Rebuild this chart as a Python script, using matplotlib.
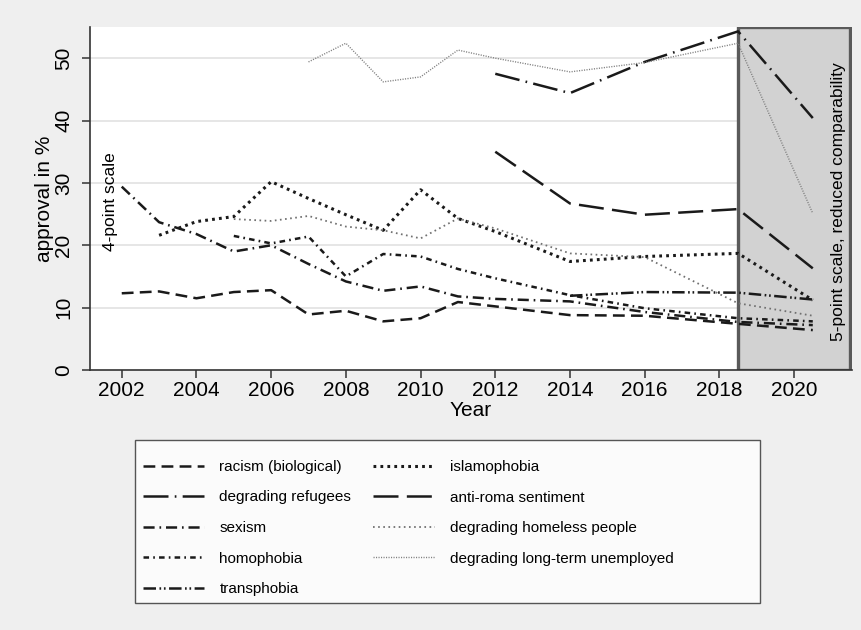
import matplotlib
matplotlib.use('Agg')
import matplotlib.pyplot as plt
import matplotlib.patches as patches
import numpy as np

plt.rcParams['font.family'] = ['Liberation Sans', 'DejaVu Sans']
plt.rcParams['lines.scale_dashes'] = False

nan = np.nan

# survey waves (2018/19 and 2020/21 sit between the even years)
years = [2002, 2003, 2004, 2005, 2006, 2007, 2008, 2009, 2010, 2011, 2012,
         2014, 2016, 2018.5, 2020.5]

racism = [12.3, 12.6, 11.5, 12.5, 12.8, 8.9, 9.5, 7.8, 8.3, 10.9, 10.2,
          8.8, 8.7, 7.4, 6.4]
refugees = [nan, nan, nan, nan, nan, nan, nan, nan, nan, nan, 47.5,
            44.4, 49.4, 54.3, 40.4]
sexism = [29.4, 23.7, 21.8, 19.0, 20.0, 17.0, 14.2, 12.7, 13.4, 11.8, 11.4,
          11.0, 9.3, 7.7, 7.2]
homophobia = [nan, nan, nan, 21.5, 20.3, 21.4, 15.0, 18.6, 18.2, 16.2, 14.7,
              12.0, 9.9, 8.3, 7.8]
transphobia = [nan, nan, nan, nan, nan, nan, nan, nan, nan, nan, nan,
               11.9, 12.5, 12.4, 11.3]
islamophobia = [nan, 21.6, 23.8, 24.6, 30.2, 27.5, 24.9, 22.4, 28.9, 24.3, 22.2,
                17.4, 18.2, 18.7, 11.2]
antiroma = [nan, nan, nan, nan, nan, nan, nan, nan, nan, nan, 35.0,
            26.7, 24.9, 25.8, 16.3]
homeless = [nan, nan, nan, 24.2, 23.9, 24.7, 23.0, 22.4, 21.1, 24.3, 22.7,
            18.7, 18.1, 10.7, 8.7]
unemployed = [nan, nan, nan, nan, nan, 49.4, 52.4, 46.2, 47.0, 51.3, 50.0,
              47.8, 49.3, 52.4, 25.1]

labels = ['racism (biological)', 'degrading refugees', 'sexism', 'homophobia',
          'transphobia', 'islamophobia', 'anti-roma sentiment',
          'degrading homeless people', 'degrading long-term unemployed']
series = [racism, refugees, sexism, homophobia, transphobia, islamophobia,
          antiroma, homeless, unemployed]
# (dash pattern, linewidth, color)
styles = [
    ((0, (8.5, 4.5)), 1.8, '#1a1a1a'),
    ((0, (18, 4.5, 1.2, 4.5)), 1.8, '#1a1a1a'),
    ((0, (8, 3.5, 1.2, 3.5)), 1.8, '#1a1a1a'),
    ((0, (4, 3, 1.2, 3)), 1.8, '#1a1a1a'),
    ((0, (9, 2.5, 1.2, 2, 1.2, 2.5)), 1.8, '#1a1a1a'),
    ((0, (2, 3)), 2.2, '#1a1a1a'),
    ((0, (18, 6)), 1.8, '#1a1a1a'),
    ((0, (1.2, 2.5)), 1.3, '#707070'),
    ((0, (0.8, 1.0)), 1.0, '#808080'),
]

fig = plt.figure(figsize=(8.61, 6.3), dpi=100, facecolor='#efefef')
ax = fig.add_axes([90/861, 1-370/630, (852-90)/861, (370-27)/630])
ax.set_facecolor('white')

for vals, lab, (ls, lw, col) in zip(series, labels, styles):
    ax.plot(years, vals, linestyle=ls, linewidth=lw, color=col, label=lab, zorder=3)

# grey box for the changed answer scale
ax.add_patch(patches.Rectangle((2018.5, 0), 3.0, 55, facecolor='#d2d2d2',
                               edgecolor='#5a5a5a', linewidth=2.4, zorder=2))

ax.text(2001.7, 27, '4-point scale', rotation=90, ha='center', va='center',
        fontsize=12.5)
ax.text(2021.2, 27, '5-point scale, reduced comparability', rotation=90,
        ha='center', va='center', fontsize=12.5)

ax.set_xlim(2001.15, 2021.55)
ax.set_ylim(0, 55)
ax.set_xticks(range(2002, 2021, 2))
ax.set_yticks(range(0, 51, 10))
ax.yaxis.grid(True, color='#e4e4e4', linewidth=1.3, zorder=0)
ax.set_axisbelow(True)
ax.get_ygridlines()[0].set_visible(False)

for s in ['top', 'right']:
    ax.spines[s].set_visible(False)
for s in ['left', 'bottom']:
    ax.spines[s].set_color('#333333')
    ax.spines[s].set_linewidth(1.2)

ax.tick_params(axis='both', direction='out', length=6, width=1.1,
               color='#333333', labelsize=15)
ax.tick_params(axis='x', pad=2)
ax.tick_params(axis='y', pad=6)
for lbl in ax.get_yticklabels():
    lbl.set_rotation(90)
    lbl.set_va('center')

ax.set_xlabel('Year', fontsize=15, labelpad=1)
ax.set_ylabel('approval in %', fontsize=15, labelpad=0)

# legend box drawn by hand, entries placed inside it
fig.patches.append(patches.Rectangle((135/861, 1-603/630), 625/861, 163/630,
                                     transform=fig.transFigure,
                                     facecolor='#fbfbfb', edgecolor='#555555',
                                     linewidth=1.0))
leg = fig.legend(loc='upper left', bbox_to_anchor=(143/861, 1-460/630),
                 ncol=2, fontsize=11, frameon=False,
                 handlelength=4.0, handletextpad=1.0, columnspacing=1.45,
                 labelspacing=1.08, borderpad=0, borderaxespad=0)

plt.savefig('out.png', dpi=100, facecolor=fig.get_facecolor())
